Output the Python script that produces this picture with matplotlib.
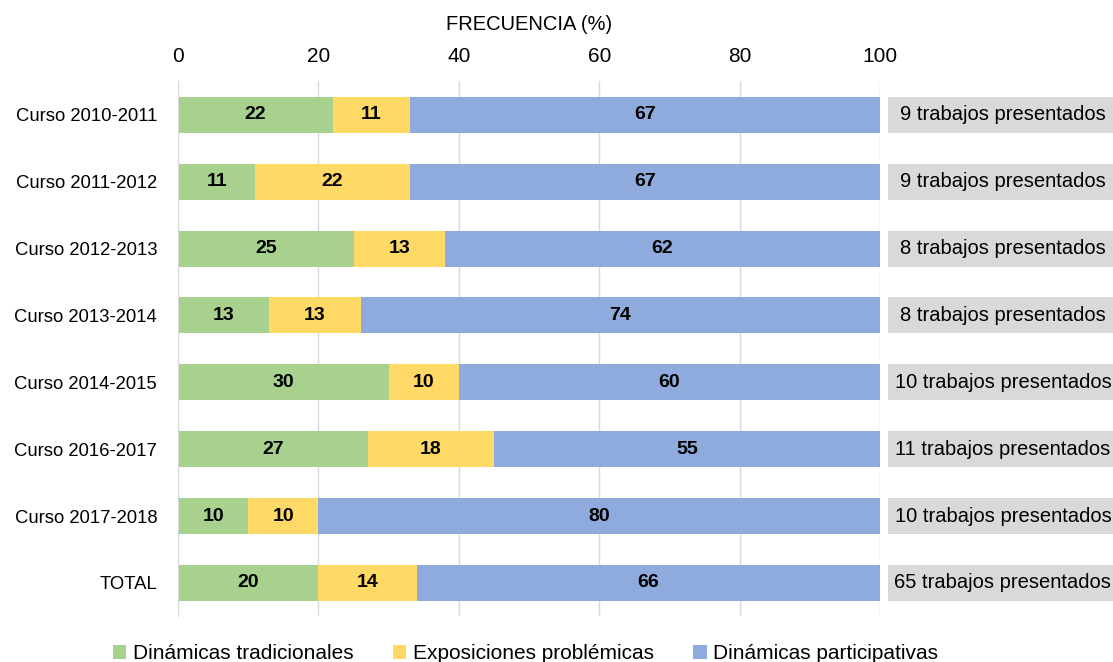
import matplotlib
matplotlib.use('Agg')
from matplotlib import pyplot as plt
from matplotlib import font_manager

names = {f.name for f in font_manager.fontManager.ttflist}
fam = 'Liberation Sans Narrow' if 'Liberation Sans Narrow' in names else 'Liberation Sans'
plt.rcParams['font.family'] = [fam, 'DejaVu Sans']

cursos = ['Curso 2010-2011', 'Curso 2011-2012', 'Curso 2012-2013', 'Curso 2013-2014',
          'Curso 2014-2015', 'Curso 2016-2017', 'Curso 2017-2018', 'TOTAL']
tradicionales = [22, 11, 25, 13, 30, 27, 10, 20]
problemicas = [11, 22, 13, 13, 10, 18, 10, 14]
participativas = [67, 67, 62, 74, 60, 55, 80, 66]
trabajos = [9, 9, 8, 8, 10, 11, 10, 65]

colors = ['#a9d18e', '#ffd966', '#8faadc']
series = [tradicionales, problemicas, participativas]
names_s = ['Dinámicas tradicionales', 'Exposiciones problémicas', 'Dinámicas participativas']

fig = plt.figure(figsize=(11.13, 6.62), dpi=100)
ax = fig.add_axes([0.16, 0.069, 0.6307, 0.808])

y = list(range(len(cursos)))
left = [0] * len(cursos)
for vals, c, n in zip(series, colors, names_s):
    bars = ax.barh(y, vals, left=left, height=0.54, color=c, label=n, zorder=2)
    ax.bar_label(bars, labels=[str(v) for v in vals], label_type='center',
                 fontsize=14, fontweight='bold', color='black')
    left = [a + b for a, b in zip(left, vals)]

# gray boxes with number of works
for yi, n in zip(y, trabajos):
    ax.barh(yi, 34, left=101.1, height=0.54, color='#d9d9d9', clip_on=False, zorder=2)
    ax.text(117.5, yi, f'{n} trabajos presentados', ha='center', va='center',
            fontsize=14.5, clip_on=False)

ax.set_xlim(0, 100)
ax.set_ylim(len(cursos) - 0.5, -0.5)
ax.set_yticks(y)
ax.set_yticklabels(cursos, fontsize=13.3)
ax.set_xticks([0, 20, 40, 60, 80, 100])
ax.xaxis.tick_top()
ax.xaxis.set_label_position('top')
ax.set_xlabel('FRECUENCIA (%)', fontsize=14.5, labelpad=12)
ax.tick_params(axis='x', labelsize=15, length=0, pad=11)
ax.tick_params(axis='y', length=0, pad=15)
ax.grid(axis='x', color='#d9d9d9', linewidth=1, zorder=0)
for s in ['top', 'right', 'bottom']:
    ax.spines[s].set_visible(False)
ax.spines['left'].set_color('#d9d9d9')

fig.legend(loc='lower center', bbox_to_anchor=(0.472, -0.03), ncol=3, frameon=False,
           fontsize=15, handlelength=0.65, handleheight=0.65, handletextpad=0.3,
           columnspacing=1.9)

plt.savefig('out.png', dpi=100)
